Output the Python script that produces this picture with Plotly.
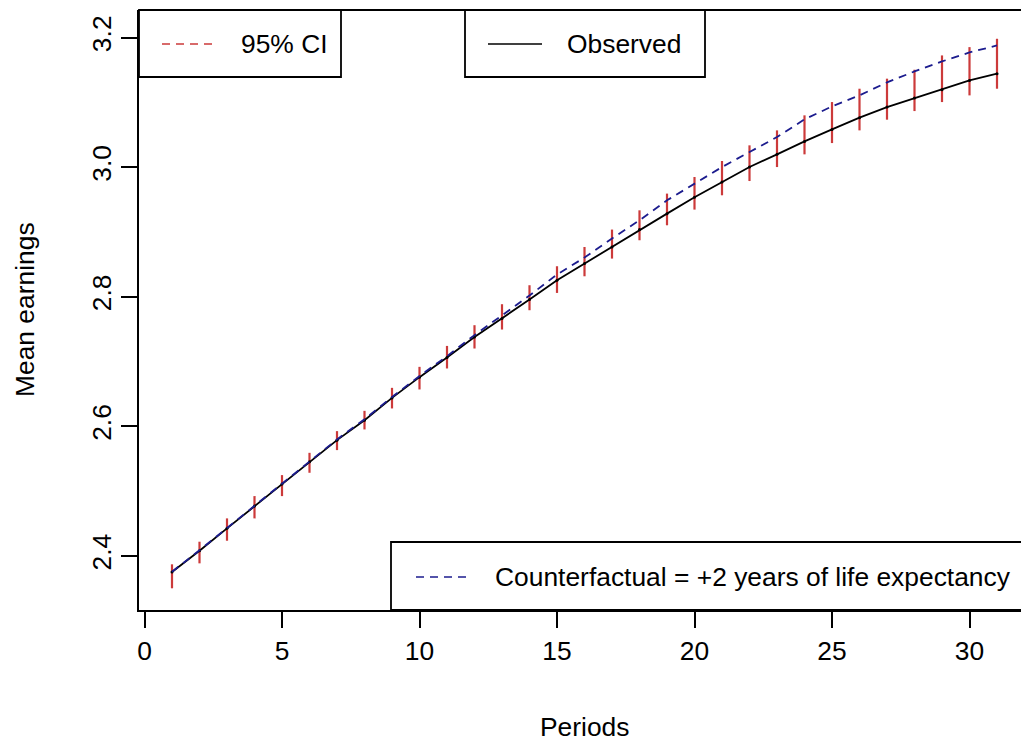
import plotly.graph_objects as go

periods = list(range(1, 32))

observed = [2.3753, 2.4082, 2.4427, 2.4771, 2.5110, 2.5454, 2.5789, 2.6097,
            2.6441, 2.6761, 2.7064, 2.7382, 2.7666, 2.7959, 2.8257, 2.8514,
            2.8770, 2.9039, 2.9285, 2.9537, 2.9773, 3.0004, 3.0200, 3.0400,
            3.0585, 3.0766, 3.0929, 3.1068, 3.1198, 3.1341, 3.1445]

counterfactual = [2.3758, 2.4088, 2.4433, 2.4778, 2.5118, 2.5463, 2.5800, 2.6110,
                  2.6455, 2.6778, 2.7085, 2.7410, 2.7710, 2.8020, 2.8345, 2.8607,
                  2.8900, 2.9182, 2.9490, 2.9748, 3.0004, 3.0235, 3.0467, 3.0740,
                  3.0940, 3.1110, 3.1310, 3.1480, 3.1634, 3.1773, 3.1881]

ci_low = [2.3502, 2.3887, 2.4236, 2.4581, 2.4925, 2.5285, 2.5635, 2.5954,
          2.6278, 2.6571, 2.6895, 2.7203, 2.7496, 2.7794, 2.8061, 2.8318,
          2.8591, 2.8874, 2.9105, 2.9347, 2.9568, 2.9788, 3.0004, 3.0200,
          3.0374, 3.0570, 3.0735, 3.0868, 3.1007, 3.1110, 3.1213]

ci_high = [2.3872, 2.4221, 2.4581, 2.4925, 2.5249, 2.5593, 2.5928, 2.6241,
           2.6596, 2.6920, 2.7243, 2.7563, 2.7887, 2.8180, 2.8473, 2.8770,
           2.9039, 2.9336, 2.9594, 2.9850, 3.0097, 3.0339, 3.0570, 3.0802,
           3.1007, 3.1213, 3.1368, 3.1506, 3.1727, 3.1855, 3.1984]

x_ticks = [0, 5, 10, 15, 20, 25, 30]
y_ticks = [2.4, 2.6, 2.8, 3.0, 3.2]
y_tick_text = ["2.4", "2.6", "2.8", "3.0", "3.2"]

W, H = 1021, 746
L, R, T, B = 139, 0, 10, 136
FONT = "Arial, Liberation Sans, sans-serif"
FS = 26.4
RED = "#cc3a3a"
BLUE = "#1c1c8e"


def px(xpix):
    return (xpix - L) / (W - L - R)


def py(ypix):
    return (H - B - ypix) / (H - T - B)


fig = go.Figure()

# CI bars round the observed series
fig.add_trace(go.Scatter(
    x=periods, y=observed, mode="markers",
    marker=dict(size=1, color="rgba(0,0,0,0)"),
    error_y=dict(type="data", symmetric=False,
                 array=[h - o for h, o in zip(ci_high, observed)],
                 arrayminus=[o - l for o, l in zip(observed, ci_low)],
                 color=RED, thickness=2.2, width=0),
    showlegend=False, hoverinfo="skip"))

fig.add_trace(go.Scatter(
    x=periods, y=observed, mode="lines+markers",
    line=dict(color="black", width=1.8),
    marker=dict(size=3, color="black"),
    name="Observed", showlegend=False))

fig.add_trace(go.Scatter(
    x=periods, y=counterfactual, mode="lines",
    line=dict(color=BLUE, width=1.8, dash="8px,6px"),
    name="Counterfactual", showlegend=False))

shapes = []
annotations = []

# top border of the box (right side is outside the picture)
shapes.append(dict(type="line", xref="paper", yref="paper", x0=0, x1=1.02, y0=1, y1=1,
                   line=dict(color="black", width=1.8)))

# legend boxes
boxes = [
    (139, 341, 10, 77, 162, 214, 239, 44, RED, "95% CI", "8px,6px"),
    (465, 705, 10, 77, 488, 542, 565, 44, "black", "Observed", "solid"),
    (391, 1030, 542, 610, 416, 470, 493, 577, BLUE, "Counterfactual = +2 years of life expectancy", "8px,6px"),
]
for x0, x1, y0, y1, lx0, lx1, tx, ty, col, label, dash in boxes:
    shapes.append(dict(type="rect", xref="paper", yref="paper",
                       x0=px(x0), x1=px(x1), y0=py(y1), y1=py(y0),
                       line=dict(color="black", width=1.8), fillcolor="white", layer="above"))
    shapes.append(dict(type="line", xref="paper", yref="paper",
                       x0=px(lx0), x1=px(lx1), y0=py(ty), y1=py(ty),
                       line=dict(color=col, width=1.5, dash=dash), layer="above"))
    annotations.append(dict(text=label, xref="paper", yref="paper", x=px(tx), y=py(ty),
                            xanchor="left", yanchor="middle", showarrow=False,
                            font=dict(family=FONT, size=FS, color="black")))

annotations.append(dict(text="Periods", xref="paper", yref="paper", x=px(584), y=py(727),
                        xanchor="center", yanchor="middle", showarrow=False,
                        font=dict(family=FONT, size=FS, color="black")))
annotations.append(dict(text="Mean earnings", xref="paper", yref="paper", x=px(25), y=py(310),
                        xanchor="center", yanchor="middle", showarrow=False, textangle=-90,
                        font=dict(family=FONT, size=FS, color="black")))

fig.update_layout(
    width=W, height=H,
    margin=dict(l=L, r=R, t=T, b=B),
    plot_bgcolor="white", paper_bgcolor="white",
    shapes=shapes, annotations=annotations,
    showlegend=False,
    xaxis=dict(range=[-0.2, -0.2 + (W - L - R) / 27.5], tickvals=x_ticks,
               ticks="outside", ticklen=16, tickwidth=1.8, tickcolor="black",
               showline=True, linecolor="black", linewidth=1.8,
               showgrid=False, zeroline=False,
               tickfont=dict(family=FONT, size=FS, color="black")),
    yaxis=dict(range=[2.3167, 3.2428], tickvals=y_ticks, ticktext=y_tick_text,
               tickangle=-90,
               ticks="outside", ticklen=16, tickwidth=1.8, tickcolor="black",
               showline=True, linecolor="black", linewidth=1.8,
               showgrid=False, zeroline=False,
               tickfont=dict(family=FONT, size=FS, color="black")),
)

# page body has an 8px default margin; drop it so the figure sits at the corner
fig.write_html("out.html", config={"displayModeBar": False},
               post_script="document.body.style.margin='0';")
